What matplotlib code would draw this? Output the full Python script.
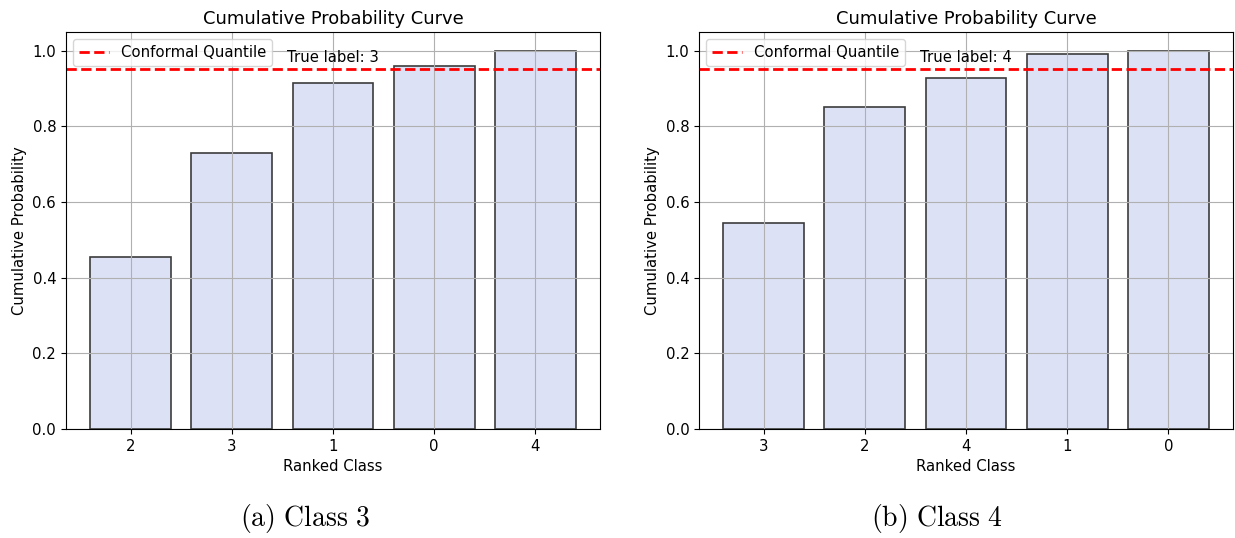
import matplotlib
matplotlib.use("Agg")
import matplotlib.pyplot as plt

# ranked classes and cumulative probabilities for each panel
classes_a = ['2', '3', '1', '0', '4']
cum_prob_a = [0.454, 0.729, 0.914, 0.960, 1.0]
true_label_a = 3

classes_b = ['3', '2', '4', '1', '0']
cum_prob_b = [0.545, 0.852, 0.929, 0.991, 1.0]
true_label_b = 4

conformal_q = 0.953

plt.rcParams['mathtext.fontset'] = 'cm'
fs = 10.7

fig = plt.figure(figsize=(12.35, 5.38), dpi=100)
ax_a = fig.add_axes([0.0534, 0.2026, 0.4324, 0.738])
ax_b = fig.add_axes([0.5660, 0.2026, 0.4324, 0.738])


def draw_panel(ax, classes, probs, true_label):
    x = range(len(classes))
    ax.bar(x, probs, width=0.8, color='#dde1f5', edgecolor='#3c3c3c', linewidth=1.2)
    ax.axhline(conformal_q, color='red', linestyle='--', linewidth=2, label='Conformal Quantile')
    ax.text(len(classes) / 2 - 0.5, 0.97, f'True label: {true_label}', ha='center', fontsize=fs)
    ax.set_xticks(list(x))
    ax.set_xticklabels(classes)
    ax.tick_params(labelsize=fs)
    ax.set_ylim(0, 1.05)
    ax.set_title('Cumulative Probability Curve', fontsize=12.9)
    ax.set_xlabel('Ranked Class', fontsize=fs)
    ax.set_ylabel('Cumulative Probability', fontsize=fs)
    ax.legend(loc='upper left', fontsize=fs)
    ax.grid(True)


draw_panel(ax_a, classes_a, cum_prob_a, true_label_a)
draw_panel(ax_b, classes_b, cum_prob_b, true_label_b)

fig.text(0.247, 0.022, r'$\mathrm{(a)\ Class\ 3}$', ha='center', va='baseline', fontsize=20)
fig.text(0.759, 0.022, r'$\mathrm{(b)\ Class\ 4}$', ha='center', va='baseline', fontsize=20)

plt.savefig('out.png', dpi=100)
